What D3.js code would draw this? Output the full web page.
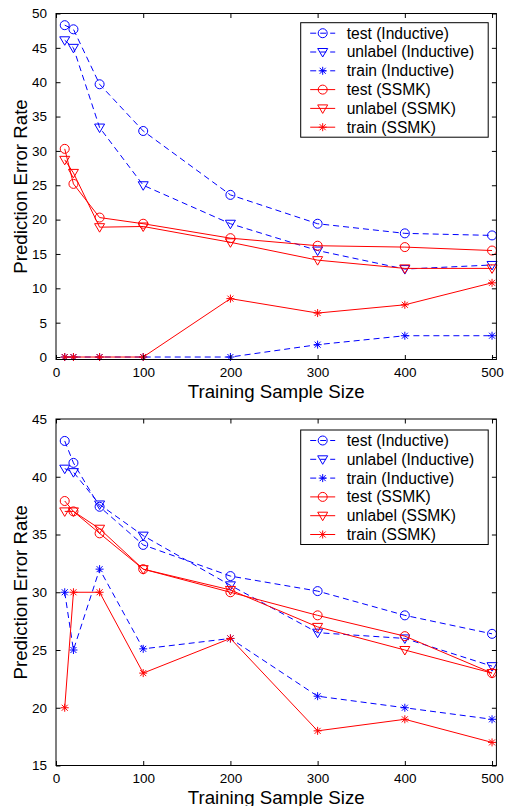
<!DOCTYPE html>
<html>
<head>
<meta charset="utf-8">
<script src="https://cdn.jsdelivr.net/npm/d3@7/dist/d3.min.js"></script>
<style>
  body { margin: 0; background: #fff; }
  svg text { font-family: "Liberation Sans", Arial, Helvetica, sans-serif; fill: #000; }
</style>
</head>
<body>
<svg id="canvas" width="509" height="806"></svg>
<script>
// training sample sizes (x values, same for both panels)
const sizes = [10, 20, 50, 100, 200, 300, 400, 500];
const xTicks = [0, 100, 200, 300, 400, 500];

// top panel
const testIndTop    = [48.3, 47.7, 39.7, 32.9, 23.6, 19.4, 18.0, 17.7];
const unlabelIndTop = [46.1, 45.0, 33.4, 25.0, 19.4, 15.5, 12.8, 13.4];
const trainIndTop   = [0, 0, 0, 0, 0, 1.8, 3.1, 3.1];
const testSsmkTop    = [30.3, 25.2, 20.3, 19.4, 17.3, 16.2, 16.0, 15.5];
const unlabelSsmkTop = [28.7, 26.8, 18.9, 19.0, 16.7, 14.1, 12.9, 12.9];
const trainSsmkTop   = [0, 0, 0, 0, 8.5, 6.4, 7.6, 10.8];
const yTicksTop = [0, 5, 10, 15, 20, 25, 30, 35, 40, 45, 50];

// bottom panel
const testIndBot    = [43.1, 41.2, 37.4, 34.1, 31.4, 30.1, 28.0, 26.4];
const unlabelIndBot = [40.7, 40.4, 37.6, 34.9, 30.6, 26.5, 26.0, 23.6];
const trainIndBot   = [30, 25, 32, 25.1, 26, 21, 20, 19];
const testSsmkBot    = [37.9, 37.0, 35.1, 32.0, 30.0, 28.0, 26.2, 23.0];
const unlabelSsmkBot = [37.0, 37.0, 35.5, 32.0, 30.2, 27.0, 25.0, 23.0];
const trainSsmkBot   = [20, 30, 30, 23, 26, 18, 19, 17];
const yTicksBot = [15, 20, 25, 30, 35, 40, 45];

const seriesNames = ["test (Inductive)", "unlabel (Inductive)", "train (Inductive)",
                     "test (SSMK)", "unlabel (SSMK)", "train (SSMK)"];
const seriesColors = ["#0000ff", "#0000ff", "#0000ff", "#ff0000", "#ff0000", "#ff0000"];
const seriesDash = ["6,4", "6,4", "6,4", null, null, null];
const seriesMarker = ["circle", "tri", "star", "circle", "tri", "star"];

let svg = d3.select("#canvas");

// draw one marker at (x,y)
let marker = (g, type, x, y, color) => {
  if (type == "circle") {
    g.append("circle").attr("cx", x).attr("cy", y).attr("r", 4.5)
      .attr("fill", "none").attr("stroke", color).attr("stroke-width", 1);
  } else if (type == "tri") {
    g.append("path")
      .attr("d", `M${x-5},${y-3.5}L${x+5},${y-3.5}L${x},${y+5}Z`)
      .attr("fill", "none").attr("stroke", color).attr("stroke-width", 1);
  } else {
    let s = 4, d = 3;
    g.append("path")
      .attr("d", `M${x},${y-s}V${y+s}M${x-s},${y}H${x+s}M${x-d},${y-d}L${x+d},${y+d}M${x-d},${y+d}L${x+d},${y-d}`)
      .attr("fill", "none").attr("stroke", color).attr("stroke-width", 1);
  }
};

let panel = (cfg) => {
  const left = 56, right = 496.4;
  const x = d3.scaleLinear().domain([0, 505]).range([left, right]);
  const y = d3.scaleLinear().domain(cfg.yDomain).range([cfg.bottom, cfg.top]);
  const g = svg.append("g");

  // series, in plotting order
  const lineGen = d3.line().x((d, i) => x(sizes[i])).y(d => y(d));
  cfg.series.forEach((vals, k) => {
    g.append("path")
      .attr("d", lineGen(vals))
      .attr("fill", "none")
      .attr("stroke", seriesColors[k])
      .attr("stroke-width", 1)
      .attr("stroke-dasharray", seriesDash[k]);
    vals.forEach((v, i) => marker(g, seriesMarker[k], x(sizes[i]), y(v), seriesColors[k]));
  });

  // axes box with inward ticks on all sides
  g.append("rect")
    .attr("x", left).attr("y", cfg.top)
    .attr("width", right - left).attr("height", cfg.bottom - cfg.top)
    .attr("fill", "none").attr("stroke", "#000").attr("stroke-width", 1);

  const tl = 4.5;
  g.append("g").attr("transform", `translate(0,${cfg.bottom})`)
    .call(d3.axisBottom(x).tickValues(xTicks).tickSizeInner(-tl).tickSizeOuter(0).tickPadding(8))
    .call(a => a.select(".domain").remove())
    .call(a => a.selectAll("text").attr("font-size", "13.5px").attr("fill", "#000")
      .attr("font-family", "Liberation Sans, Arial, sans-serif"));
  g.append("g").attr("transform", `translate(0,${cfg.top})`)
    .call(d3.axisTop(x).tickValues(xTicks).tickSizeInner(-tl).tickSizeOuter(0).tickFormat(""))
    .call(a => a.select(".domain").remove());
  g.append("g").attr("transform", `translate(${left},0)`)
    .call(d3.axisLeft(y).tickValues(cfg.yTicks).tickSizeInner(-tl).tickSizeOuter(0).tickPadding(9))
    .call(a => a.select(".domain").remove())
    .call(a => a.selectAll("text").attr("font-size", "13.5px").attr("fill", "#000")
      .attr("font-family", "Liberation Sans, Arial, sans-serif"));
  g.append("g").attr("transform", `translate(${right},0)`)
    .call(d3.axisRight(y).tickValues(cfg.yTicks).tickSizeInner(-tl).tickSizeOuter(0).tickFormat(""))
    .call(a => a.select(".domain").remove());
  g.selectAll(".tick line").attr("stroke", "#000");

  // axis labels
  g.append("text")
    .attr("x", (left + right) / 2).attr("y", cfg.bottom + 38)
    .attr("text-anchor", "middle").attr("font-size", "18.7px")
    .text("Training Sample Size");
  g.append("text")
    .attr("transform", `translate(27,${(cfg.top + cfg.bottom) / 2}) rotate(-90)`)
    .attr("text-anchor", "middle").attr("font-size", "18.7px")
    .text("Prediction Error Rate");

  // legend
  const lx = 300.7, lw = 187.5, step = 18.8;
  const lg = g.append("g").attr("transform", `translate(${lx},${cfg.legendTop})`);
  lg.append("rect").attr("width", lw).attr("height", 114.5)
    .attr("fill", "#fff").attr("stroke", "#000").attr("stroke-width", 1);
  seriesNames.forEach((name, k) => {
    const ry = 10.5 + k * step;
    lg.append("line").attr("x1", 9.5).attr("x2", 34.5).attr("y1", ry).attr("y2", ry)
      .attr("stroke", seriesColors[k]).attr("stroke-width", 1)
      .attr("stroke-dasharray", seriesDash[k]);
    marker(lg, seriesMarker[k], 22, ry, seriesColors[k]);
    lg.append("text").attr("x", 46).attr("y", ry + 5.5)
      .attr("font-size", "15.6px").text(name);
  });
};

panel({
  top: 13.5, bottom: 359.5, yDomain: [-0.36, 50], yTicks: yTicksTop, legendTop: 22.7,
  series: [testIndTop, unlabelIndTop, trainIndTop, testSsmkTop, unlabelSsmkTop, trainSsmkTop]
});
panel({
  top: 419, bottom: 765.5, yDomain: [15, 45], yTicks: yTicksBot, legendTop: 430,
  series: [testIndBot, unlabelIndBot, trainIndBot, testSsmkBot, unlabelSsmkBot, trainSsmkBot]
});
</script>
</body>
</html>
